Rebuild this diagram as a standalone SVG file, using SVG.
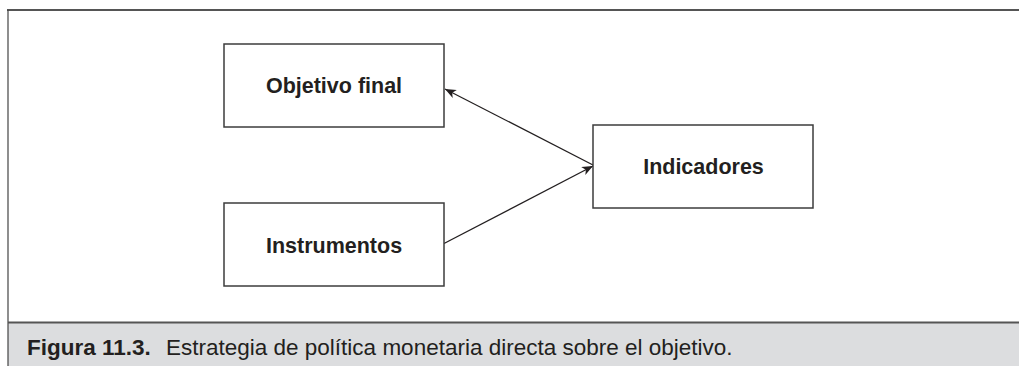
<svg xmlns="http://www.w3.org/2000/svg" width="1019" height="366" viewBox="0 0 1019 366">
  <style>
    .box { fill: #ffffff; stroke: #3c3c3c; stroke-width: 1.5; }
    .label { font-family: "Liberation Sans", Arial, sans-serif; font-weight: bold; font-size: 21.5px; fill: #231f20; text-anchor: middle; }
    .conn { stroke: #231f20; stroke-width: 1.3; fill: none; marker-end: url(#arrow); }
    .cap { font-family: "Liberation Sans", Arial, sans-serif; font-size: 22.5px; fill: #231f20; }
  </style>
  <defs>
    <marker id="arrow" markerUnits="userSpaceOnUse" markerWidth="12" markerHeight="10" refX="11" refY="4.5" orient="auto">
      <path d="M0,0 L11,4.5 L0,9 L3,4.5 z" fill="#231f20"/>
    </marker>
  </defs>
  <rect x="0" y="0" width="1019" height="366" fill="#ffffff"/>
  <g id="frame">
    <rect x="8" y="322" width="1011" height="44" fill="#dcdddf"/>
    <line x1="7" y1="10" x2="1019" y2="10" stroke="#555555" stroke-width="2"/>
    <line x1="8" y1="10" x2="8" y2="366" stroke="#444444" stroke-width="1.2"/>
    <line x1="8" y1="322.5" x2="1019" y2="322.5" stroke="#555555" stroke-width="2"/>
  </g>
  <g id="connectors">
    <line class="conn" x1="593" y1="165" x2="445" y2="89"/>
    <line class="conn" x1="444" y1="243.5" x2="593" y2="166"/>
  </g>
  <g id="node-objetivo">
    <rect class="box" x="224" y="44" width="220" height="83"/>
    <text class="label" x="334" y="93.3">Objetivo final</text>
  </g>
  <g id="node-instrumentos">
    <rect class="box" x="224" y="203" width="220" height="83"/>
    <text class="label" x="334" y="252.7">Instrumentos</text>
  </g>
  <g id="node-indicadores">
    <rect class="box" x="593" y="125" width="220" height="83"/>
    <text class="label" x="703.5" y="174">Indicadores</text>
  </g>
  <g id="caption">
    <text class="cap" x="27" y="355"><tspan font-weight="bold">Figura 11.3.</tspan><tspan x="166">Estrategia de política monetaria directa sobre el objetivo.</tspan></text>
  </g>
</svg>
